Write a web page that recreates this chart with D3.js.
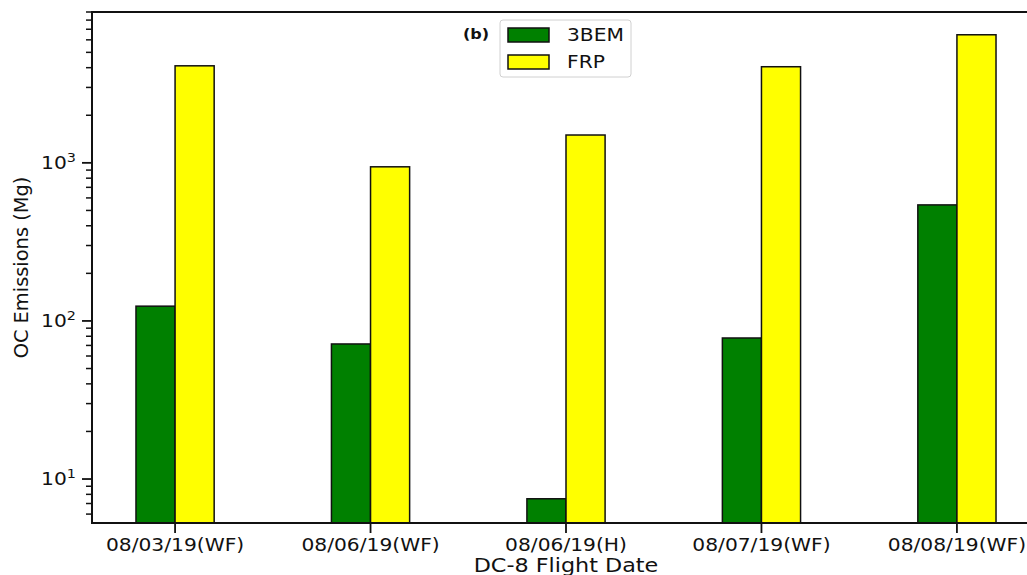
<!DOCTYPE html>
<html>
<head>
<meta charset="utf-8">
<script src="https://cdn.jsdelivr.net/npm/d3@7"></script>
<style>
  body { margin: 0; background: #fff; }
  text { font-family: "DejaVu Sans", sans-serif; fill: #111; }
</style>
</head>
<body>
<script>
//chart values
var dates = ["08/03/19(WF)", "08/06/19(WF)", "08/06/19(H)", "08/07/19(WF)", "08/08/19(WF)"];
var bem3 = [124, 71.5, 7.5, 78, 542];
var frp = [4110, 944, 1500, 4055, 6460];
var seriesNames = ["3BEM", "FRP"];
var seriesColors = ["#008000", "#ffff00"];
var yTickValues = [10, 100, 1000];

window.onload = drawChart;

function drawChart(){

    //page and plot frame
    var width = 1027,
        height = 575;
    var pLeft = 92, pTop = 12, pBottom = 523, pRight = 1040;
    var sx = 1.15; //the picture is a bit wider than tall

    var svg = d3.select("body")
        .append("svg")
        .attr("width", width)
        .attr("height", height);

    var x = d3.scaleLinear()
        .domain([-0.425, dates.length - 1 + 0.425])
        .range([pLeft, pRight]);

    var y = d3.scaleLog()
        .domain([5.27, 9000])
        .range([pBottom, pTop]);

    var barW = x(0.2) - x(0);

    //bars, two per date
    var series = [bem3, frp];
    series.forEach(function(vals, s){
        svg.append("g")
            .selectAll("rect")
            .data(vals)
            .enter()
            .append("rect")
            .attr("x", function(d, i){ return x(i) + (s - 1) * barW; })
            .attr("y", function(d){ return y(d); })
            .attr("width", barW)
            .attr("height", function(d){ return pBottom - y(d); })
            .attr("fill", seriesColors[s])
            .attr("stroke", "#111")
            .attr("stroke-width", 1.5);
    });

    //stretched text helper
    function label(g, tx, ty, str, size, anchor){
        return g.append("g")
            .attr("transform", "translate(" + tx + "," + ty + ") scale(" + sx + ",1)")
            .append("text")
            .attr("font-size", size)
            .attr("text-anchor", anchor || "middle")
            .text(str);
    }

    //y axis: major and minor ticks
    var minor = [];
    for (var e = 0; e <= 3; e++){
        for (var m = 2; m <= 9; m++){
            var v = m * Math.pow(10, e);
            if (v >= y.domain()[0] && v <= y.domain()[1]) minor.push(v);
        }
    }
    var yAxis = svg.append("g");
    yAxis.selectAll("line.minor")
        .data(minor)
        .enter()
        .append("line")
        .attr("x1", pLeft - 6).attr("x2", pLeft)
        .attr("y1", function(d){ return y(d); })
        .attr("y2", function(d){ return y(d); })
        .attr("stroke", "#111")
        .attr("stroke-width", 1.5);
    yAxis.selectAll("line.major")
        .data(yTickValues)
        .enter()
        .append("line")
        .attr("x1", pLeft - 10).attr("x2", pLeft)
        .attr("y1", function(d){ return y(d); })
        .attr("y2", function(d){ return y(d); })
        .attr("stroke", "#111")
        .attr("stroke-width", 1.8);
    yTickValues.forEach(function(d){
        var t = label(yAxis, pLeft - 16, y(d) + 6, "10", 17.6, "end");
        t.append("tspan")
            .attr("dy", -7)
            .attr("font-size", 12.5)
            .text(Math.round(Math.log10(d)));
    });

    //x axis ticks and labels
    var xAxis = svg.append("g");
    dates.forEach(function(d, i){
        xAxis.append("line")
            .attr("x1", x(i)).attr("x2", x(i))
            .attr("y1", pBottom).attr("y2", pBottom + 10)
            .attr("stroke", "#111")
            .attr("stroke-width", 1.8);
        label(xAxis, x(i), pBottom + 28, d, 17.6);
    });

    //spines
    svg.append("rect")
        .attr("x", pLeft).attr("y", pTop)
        .attr("width", pRight - pLeft).attr("height", pBottom - pTop)
        .attr("fill", "none")
        .attr("stroke", "#111")
        .attr("stroke-width", 2);

    //axis titles
    label(svg, 566, 572, "DC-8 Flight Date", 19.4);
    svg.append("text")
        .attr("transform", "translate(28," + ((pTop + pBottom) / 2) + ") rotate(-90)")
        .attr("font-size", 19.4)
        .attr("text-anchor", "middle")
        .text("OC Emissions (Mg)");

    //panel tag
    label(svg, 463, 39, "(b)", 14, "start").attr("font-weight", "bold");

    //legend
    var lg = svg.append("g");
    lg.append("rect")
        .attr("x", 500).attr("y", 20)
        .attr("width", 131).attr("height", 57)
        .attr("rx", 3)
        .attr("fill", "#fff")
        .attr("stroke", "#d0d0d0");
    seriesNames.forEach(function(n, i){
        lg.append("rect")
            .attr("x", 508).attr("y", 28 + i * 27)
            .attr("width", 41).attr("height", 14)
            .attr("fill", seriesColors[i])
            .attr("stroke", "#111")
            .attr("stroke-width", 1.5);
        label(lg, 567, 41 + i * 27, n, 17.6, "start");
    });
}
</script>
</body>
</html>
